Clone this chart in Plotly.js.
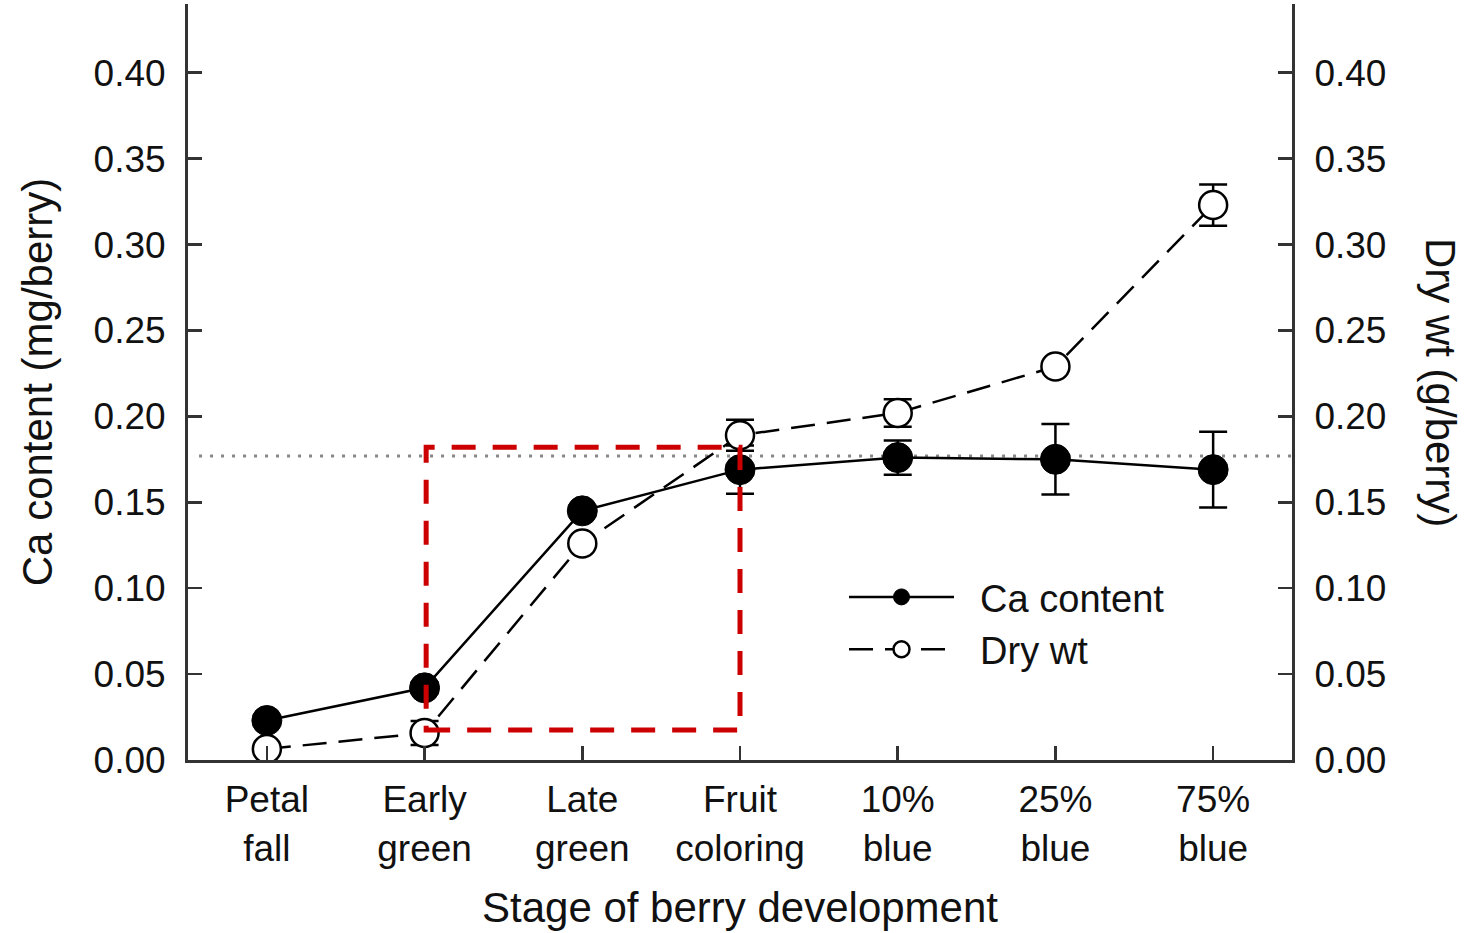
<!DOCTYPE html>
<html><head><meta charset="utf-8">
<script src="https://cdn.plot.ly/plotly-3.0.1.min.js"></script>
<style>html,body{margin:0;padding:0;background:#fff}</style>
</head><body><div id="chart" style="width:1474px;height:933px"></div>
<script>
const stages = ["Petal<br>fall","Early<br>green","Late<br>green","Fruit<br>coloring","10%<br>blue","25%<br>blue","75%<br>blue"];
const stageIndex = [0,1,2,3,4,5,6];
const caContent = [0.023,0.042,0.145,0.169,0.176,0.175,0.169];
const caError = [0,0.003,0,0.014,0.010,0.0205,0.022];
const dryWt = [0.0064,0.0157,0.126,0.189,0.202,0.229,0.323];
const dryWtError = [0,0.007,0,0.009,0.008,0,0.012];
const referenceLevel = 0.177;
const boxStages = [1.01, 3];
const boxRange = [0.0174, 0.182];
const yTicks = [0,0.05,0.10,0.15,0.20,0.25,0.30,0.35,0.40];
const yTickText = ["0.00","0.05","0.10","0.15","0.20","0.25","0.30","0.35","0.40"];

const FONT = "Arial, 'Liberation Sans', sans-serif";
const AX = "#333";
const NB = "\u00a0\u00a0";

const traces = [
  {
    x: stageIndex, y: caContent, name: NB + "Ca content", type: "scatter", mode: "lines+markers",
    line: {color: "#000", width: 2.5},
    marker: {symbol: "circle", size: 30, color: "#000", line: {color: "#000", width: 1}},
    error_y: {type: "data", array: caError, visible: true, color: "#000", thickness: 2.5, width: 14},
    yaxis: "y"
  },
  {
    x: stageIndex, y: dryWt, name: NB + "Dry wt", type: "scatter", mode: "lines+markers",
    line: {color: "#000", width: 2.5, dash: "24px,12px"},
    marker: {symbol: "circle", size: 28, color: "#fff", line: {color: "#000", width: 2.5}},
    error_y: {type: "data", array: dryWtError, visible: true, color: "#000", thickness: 2.5, width: 14},
    yaxis: "y2"
  }
];

const yCommon = {
  range: [0, 0.44], tickvals: yTicks, ticktext: yTickText,
  ticks: "inside", ticklen: 14, tickwidth: 2.5, tickcolor: AX,
  showline: true, linecolor: AX, linewidth: 3, showgrid: false, zeroline: false,
  tickfont: {family: FONT, size: 37, color: "#111"}, fixedrange: true
};

const layout = {
  width: 1474, height: 933,
  margin: {l: 188, r: 182, t: 4, b: 173},
  paper_bgcolor: "#fff", plot_bgcolor: "#fff",
  font: {family: FONT, color: "#111"},
  showlegend: true,
  legend: {x: 0.5942, y: 0.257, xanchor: "left", yanchor: "top", bgcolor: "rgba(0,0,0,0)",
           font: {family: FONT, size: 38, color: "#111"}, itemwidth: 105, tracegroupgap: 0},
  xaxis: {
    range: [-0.5, 6.5], tickvals: stageIndex, ticktext: stages,
    ticks: "inside", ticklen: 14, tickwidth: 2.5, tickcolor: AX,
    showline: true, linecolor: AX, linewidth: 3, showgrid: false, zeroline: false,
    tickfont: {family: FONT, size: 37, color: "#111"}, ticklabelstandoff: 5,
    title: {text: "Stage of berry development", font: {family: FONT, size: 42, color: "#111"}, standoff: 26}
  },
  yaxis: Object.assign({}, yCommon, {
    side: "left", ticklabelstandoff: 12,
    title: {text: "Ca content (mg/berry)", font: {family: FONT, size: 42, color: "#111"}, standoff: 28}
  }),
  yaxis2: Object.assign({}, yCommon, {
    side: "right", overlaying: "y", ticklabelstandoff: 12
  }),
  shapes: [
    {type: "line", xref: "paper", yref: "y", x0: 0.01, x1: 1.0, y0: referenceLevel, y1: referenceLevel,
     line: {color: "#888", width: 3, dash: "3px,8px"}, layer: "below"},
    {type: "rect", xref: "x", yref: "y", x0: boxStages[0], x1: boxStages[1], y0: boxRange[0], y1: boxRange[1],
     line: {color: "#cc0000", width: 5, dash: "24px,17px"}, fillcolor: "rgba(0,0,0,0)", layer: "above"}
  ],
  annotations: [
    {text: "Dry wt (g/berry)", xref: "paper", yref: "paper", x: 1.135, y: 0.5, xanchor: "center", yanchor: "middle",
     textangle: 90, showarrow: false, font: {family: FONT, size: 42, color: "#111"}}
  ]
};

Plotly.newPlot("chart", traces, layout, {displayModeBar: false, staticPlot: true});
</script>
</body></html>
